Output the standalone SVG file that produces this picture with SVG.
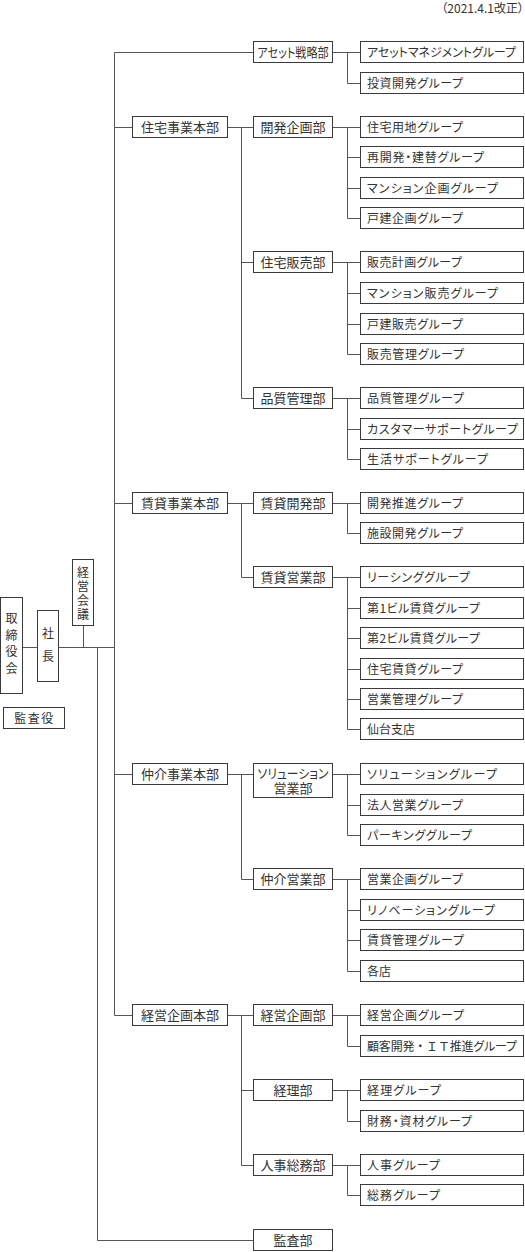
<svg xmlns="http://www.w3.org/2000/svg" width="525" height="1252" viewBox="0 0 525 1252">
<style>
.bx{fill:#fff;stroke:#3a3a3a;stroke-width:1}
.t{font-family:"Noto Sans CJK JP","Noto Sans CJK SC",sans-serif;font-size:12px;fill:#333;font-feature-settings:"palt"}
.d{font-size:13px;text-anchor:middle}
.m{text-anchor:middle}
.v{writing-mode:vertical-rl;font-feature-settings:normal}
.ln{fill:none;stroke:#555;stroke-width:1}
</style>
<rect width="525" height="1252" fill="#fff"/>
<text class="t" x="524" y="12.5" text-anchor="end">（2021.4.1改正）</text>

<g id="connectors" class="ln">
<path d="M23 647.5H37M59 647.5H114.5M83.5 626V647.5M97.5 647.5V1240.5H253"/>
<path d="M114.5 52.5V1015.5M114.5 52.5H253M114.5 127.5H132M114.5 503.5H132M114.5 774.5H132M114.5 1015.5H132"/>
<path d="M228 127.5H253M241.5 127.5V398.5M241.5 262.5H253M241.5 398.5H253"/>
<path d="M228 503.5H253M241.5 503.5V577.5M241.5 577.5H253"/>
<path d="M228 774.5H253M241.5 774.5V879.5M241.5 879.5H253"/>
<path d="M228 1015.5H253M241.5 1015.5V1165.5M241.5 1090.5H253M241.5 1165.5H253"/>
<path d="M333 52.5H360M347.5 52.5V83.5H360"/>
<path d="M333 127.5H360M347.5 127.5V218.5M347.5 157.5H360M347.5 188.5H360M347.5 218.5H360"/>
<path d="M333 262.5H360M347.5 262.5V354.5M347.5 293.5H360M347.5 324.5H360M347.5 354.5H360"/>
<path d="M333 398.5H360M347.5 398.5V459.5M347.5 429.5H360M347.5 459.5H360"/>
<path d="M333 503.5H360M347.5 503.5V533.5H360"/>
<path d="M333 577.5H360M347.5 577.5V729.5M347.5 608.5H360M347.5 638.5H360M347.5 669.5H360M347.5 699.5H360M347.5 729.5H360"/>
<path d="M333 774.5H360M347.5 774.5V835.5M347.5 805.5H360M347.5 835.5H360"/>
<path d="M333 879.5H360M347.5 879.5V971.5M347.5 910.5H360M347.5 940.5H360M347.5 971.5H360"/>
<path d="M333 1015.5H360M347.5 1015.5V1046.5H360"/>
<path d="M333 1090.5H360M347.5 1090.5V1121.5H360"/>
<path d="M333 1165.5H360M347.5 1165.5V1195.5H360"/>
</g>

<g id="n-torishimariyakukai"><rect class="bx" x="0.5" y="597.5" width="22" height="96"/>
<text class="t v" x="11.5" y="612.3" font-size="13.5" letter-spacing="4.8">取締役会</text></g>
<g id="n-shacho"><rect class="bx" x="37.5" y="610.5" width="21" height="71"/>
<text class="t v" x="48" y="627.3" font-size="13.5" letter-spacing="11">社長</text></g>
<g id="n-keieikaigi"><rect class="bx" x="72.5" y="559.5" width="21" height="66"/>
<text class="t v" x="83" y="566.3" font-size="12.5" letter-spacing="2">経営会議</text></g>
<g id="n-kansayaku"><rect class="bx" x="3.5" y="707.5" width="61" height="21"/>
<text class="t m" x="34.5" y="722.5" font-size="13" letter-spacing="1.5">監査役</text></g>

<g id="h-jutaku"><rect class="bx" x="132.5" y="116.5" width="95" height="21"/><text class="t d" x="180" y="132">住宅事業本部</text></g>
<g id="h-chintai"><rect class="bx" x="132.5" y="492.5" width="95" height="21"/><text class="t d" x="180" y="508">賃貸事業本部</text></g>
<g id="h-chukai"><rect class="bx" x="132.5" y="763.5" width="95" height="21"/><text class="t d" x="180" y="779">仲介事業本部</text></g>
<g id="h-keiei"><rect class="bx" x="132.5" y="1004.5" width="95" height="21"/><text class="t d" x="180" y="1020">経営企画本部</text></g>

<g id="d-asset"><rect class="bx" x="253.5" y="41.5" width="79" height="21"/><text class="t d" x="293" y="57" textLength="71" lengthAdjust="spacingAndGlyphs">アセット戦略部</text></g>
<g id="d-kaihatsukikaku"><rect class="bx" x="253.5" y="116.5" width="79" height="21"/><text class="t d" x="293" y="132">開発企画部</text></g>
<g id="d-jutakuhanbai"><rect class="bx" x="253.5" y="251.5" width="79" height="21"/><text class="t d" x="293" y="267">住宅販売部</text></g>
<g id="d-hinshitsu"><rect class="bx" x="253.5" y="387.5" width="79" height="21"/><text class="t d" x="293" y="403">品質管理部</text></g>
<g id="d-chintaikaihatsu"><rect class="bx" x="253.5" y="492.5" width="79" height="21"/><text class="t d" x="293" y="508">賃貸開発部</text></g>
<g id="d-chintaieigyo"><rect class="bx" x="253.5" y="566.5" width="79" height="21"/><text class="t d" x="293" y="582">賃貸営業部</text></g>
<g id="d-solution"><rect class="bx" x="253.5" y="763.5" width="79" height="34"/><text class="t d" font-size="12.5"><tspan x="293" y="777.5" textLength="71" lengthAdjust="spacingAndGlyphs">ソリューション</tspan><tspan x="293" y="793">営業部</tspan></text></g>
<g id="d-chukaieigyo"><rect class="bx" x="253.5" y="868.5" width="79" height="21"/><text class="t d" x="293" y="884">仲介営業部</text></g>
<g id="d-keieikikaku"><rect class="bx" x="253.5" y="1004.5" width="79" height="21"/><text class="t d" x="293" y="1020">経営企画部</text></g>
<g id="d-keiri"><rect class="bx" x="253.5" y="1079.5" width="79" height="21"/><text class="t d" x="293" y="1095">経理部</text></g>
<g id="d-jinji"><rect class="bx" x="253.5" y="1154.5" width="79" height="21"/><text class="t d" x="293" y="1170">人事総務部</text></g>
<g id="d-kansa"><rect class="bx" x="253.5" y="1229.5" width="79" height="21"/><text class="t d" x="293" y="1245">監査部</text></g>

<g id="g01"><rect class="bx" x="360.5" y="41.5" width="163" height="21"/><text class="t" x="367" y="57" textLength="149" lengthAdjust="spacing">アセットマネジメントグループ</text></g>
<g id="g02"><rect class="bx" x="360.5" y="72.5" width="163" height="21"/><text class="t" x="367" y="88" textLength="96" lengthAdjust="spacing">投資開発グループ</text></g>
<g id="g03"><rect class="bx" x="360.5" y="116.5" width="163" height="21"/><text class="t" x="367" y="132" textLength="96" lengthAdjust="spacing">住宅用地グループ</text></g>
<g id="g04"><rect class="bx" x="360.5" y="146.5" width="163" height="21"/><text class="t" x="367" y="162" textLength="117" lengthAdjust="spacing">再開発・建替グループ</text></g>
<g id="g05"><rect class="bx" x="360.5" y="177.5" width="163" height="21"/><text class="t" x="367" y="193" textLength="131" lengthAdjust="spacing">マンション企画グループ</text></g>
<g id="g06"><rect class="bx" x="360.5" y="207.5" width="163" height="21"/><text class="t" x="367" y="223" textLength="96" lengthAdjust="spacing">戸建企画グループ</text></g>
<g id="g07"><rect class="bx" x="360.5" y="251.5" width="163" height="21"/><text class="t" x="367" y="267" textLength="95" lengthAdjust="spacing">販売計画グループ</text></g>
<g id="g08"><rect class="bx" x="360.5" y="282.5" width="163" height="21"/><text class="t" x="367" y="298" textLength="131" lengthAdjust="spacing">マンション販売グループ</text></g>
<g id="g09"><rect class="bx" x="360.5" y="313.5" width="163" height="21"/><text class="t" x="367" y="329" textLength="96" lengthAdjust="spacing">戸建販売グループ</text></g>
<g id="g10"><rect class="bx" x="360.5" y="343.5" width="163" height="21"/><text class="t" x="367" y="359" textLength="97" lengthAdjust="spacing">販売管理グループ</text></g>
<g id="g11"><rect class="bx" x="360.5" y="387.5" width="163" height="21"/><text class="t" x="367" y="403" textLength="97" lengthAdjust="spacing">品質管理グループ</text></g>
<g id="g12"><rect class="bx" x="360.5" y="418.5" width="163" height="21"/><text class="t" x="367" y="434" textLength="151" lengthAdjust="spacing">カスタマーサポートグループ</text></g>
<g id="g13"><rect class="bx" x="360.5" y="448.5" width="163" height="21"/><text class="t" x="367" y="464" textLength="121" lengthAdjust="spacing">生活サポートグループ</text></g>
<g id="g14"><rect class="bx" x="360.5" y="492.5" width="163" height="21"/><text class="t" x="367" y="508" textLength="96" lengthAdjust="spacing">開発推進グループ</text></g>
<g id="g15"><rect class="bx" x="360.5" y="522.5" width="163" height="21"/><text class="t" x="367" y="538" textLength="96" lengthAdjust="spacing">施設開発グループ</text></g>
<g id="g16"><rect class="bx" x="360.5" y="566.5" width="163" height="21"/><text class="t" x="367" y="582" textLength="103" lengthAdjust="spacing">リーシンググループ</text></g>
<g id="g17"><rect class="bx" x="360.5" y="597.5" width="163" height="21"/><text class="t" x="367" y="613" textLength="113" lengthAdjust="spacing">第1ビル賃貸グループ</text></g>
<g id="g18"><rect class="bx" x="360.5" y="627.5" width="163" height="21"/><text class="t" x="367" y="643" textLength="113" lengthAdjust="spacing">第2ビル賃貸グループ</text></g>
<g id="g19"><rect class="bx" x="360.5" y="658.5" width="163" height="21"/><text class="t" x="367" y="674" textLength="96" lengthAdjust="spacing">住宅賃貸グループ</text></g>
<g id="g20"><rect class="bx" x="360.5" y="688.5" width="163" height="21"/><text class="t" x="367" y="704" textLength="96" lengthAdjust="spacing">営業管理グループ</text></g>
<g id="g21"><rect class="bx" x="360.5" y="718.5" width="163" height="21"/><text class="t" x="367" y="734">仙台支店</text></g>
<g id="g22"><rect class="bx" x="360.5" y="763.5" width="163" height="21"/><text class="t" x="367" y="779" textLength="130" lengthAdjust="spacing">ソリューショングループ</text></g>
<g id="g23"><rect class="bx" x="360.5" y="794.5" width="163" height="21"/><text class="t" x="367" y="810" textLength="96" lengthAdjust="spacing">法人営業グループ</text></g>
<g id="g24"><rect class="bx" x="360.5" y="824.5" width="163" height="21"/><text class="t" x="367" y="840" textLength="105" lengthAdjust="spacing">パーキンググループ</text></g>
<g id="g25"><rect class="bx" x="360.5" y="868.5" width="163" height="21"/><text class="t" x="367" y="884" textLength="96" lengthAdjust="spacing">営業企画グループ</text></g>
<g id="g26"><rect class="bx" x="360.5" y="899.5" width="163" height="21"/><text class="t" x="367" y="915" textLength="128" lengthAdjust="spacing">リノベーショングループ</text></g>
<g id="g27"><rect class="bx" x="360.5" y="929.5" width="163" height="21"/><text class="t" x="367" y="945" textLength="97" lengthAdjust="spacing">賃貸管理グループ</text></g>
<g id="g28"><rect class="bx" x="360.5" y="960.5" width="163" height="21"/><text class="t" x="367" y="976">各店</text></g>
<g id="g29"><rect class="bx" x="360.5" y="1004.5" width="163" height="21"/><text class="t" x="367" y="1020" textLength="97" lengthAdjust="spacing">経営企画グループ</text></g>
<g id="g30"><rect class="bx" x="360.5" y="1035.5" width="163" height="21"/><text class="t" x="367" y="1051" textLength="150" lengthAdjust="spacing">顧客開発<tspan style="font-feature-settings:normal">・ＩＴ</tspan>推進グループ</text></g>
<g id="g31"><rect class="bx" x="360.5" y="1079.5" width="163" height="21"/><text class="t" x="367" y="1095" textLength="74" lengthAdjust="spacing">経理グループ</text></g>
<g id="g32"><rect class="bx" x="360.5" y="1110.5" width="163" height="21"/><text class="t" x="367" y="1126" textLength="105" lengthAdjust="spacing">財務・資材グループ</text></g>
<g id="g33"><rect class="bx" x="360.5" y="1154.5" width="163" height="21"/><text class="t" x="367" y="1170" textLength="73" lengthAdjust="spacing">人事グループ</text></g>
<g id="g34"><rect class="bx" x="360.5" y="1184.5" width="163" height="21"/><text class="t" x="367" y="1200" textLength="73" lengthAdjust="spacing">総務グループ</text></g>
</svg>
